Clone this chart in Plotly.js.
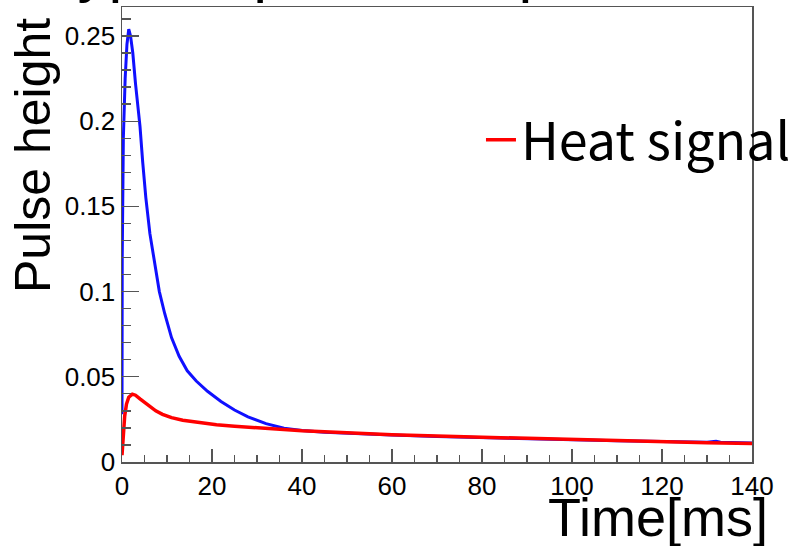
<!DOCTYPE html>
<html>
<head>
<meta charset="utf-8">
<script src="https://cdn.plot.ly/plotly-3.0.1.min.js"></script>
<style>html,body{margin:0;padding:0;background:#fff;}#chart{width:789px;height:546px;}</style>
</head>
<body>
<div id="chart"></div>
<script>
// Time axis [ms] and pulse heights
const blueTime = [0, 0, 0.05, 0.3, 0.7, 1.1, 1.5, 1.9, 2.4, 3, 3.5, 4, 4.6, 5.3, 6.2, 7.2, 8.3, 9.5, 11, 12.7, 14.5, 16.5, 19, 22, 25, 28, 32, 36, 40, 45, 50, 60, 70, 80, 90, 100, 110, 120, 130, 132, 133, 140];
const blueHeight = [0.028, 0.09, 0.12, 0.19, 0.225, 0.245, 0.254, 0.25, 0.24, 0.222, 0.21, 0.197, 0.176, 0.155, 0.134, 0.117, 0.100, 0.087, 0.073, 0.062, 0.0535, 0.0475, 0.0415, 0.0355, 0.0305, 0.0265, 0.0225, 0.0198, 0.0185, 0.0175, 0.0168, 0.0158, 0.015, 0.0143, 0.0136, 0.013, 0.0124, 0.012, 0.0116, 0.0122, 0.0116, 0.0112];

const heatTime = [0, 0.3, 0.6, 1.0, 1.5, 2.3, 3, 4, 5, 6.2, 7.5, 9, 11, 13.5, 17, 21, 25, 30, 35, 40, 45, 50, 60, 70, 80, 90, 100, 110, 120, 130, 140];
const heatHeight = [0.004, 0.018, 0.027, 0.034, 0.038, 0.0398, 0.0392, 0.037, 0.035, 0.0325, 0.030, 0.028, 0.026, 0.0245, 0.023, 0.0218, 0.021, 0.0200, 0.0192, 0.0183, 0.0177, 0.017, 0.016, 0.0152, 0.0145, 0.0138, 0.0132, 0.0125, 0.0118, 0.0113, 0.0109];

const heatName = "Heat signal";
const titleText = "Typical pulse shape";
const xTitle = "Time[ms]";
const yTitle = "Pulse height";

const axisColor = "#555555";
const sans = "Liberation Sans, Arial, sans-serif";

const traces = [
  {x: blueTime, y: blueHeight, type: "scatter", mode: "lines", showlegend: false,
   line: {color: "#1010ff", width: 3}},
  {x: heatTime, y: heatHeight, type: "scatter", mode: "lines", name: heatName,
   line: {color: "#ff0000", width: 3.5}}
];

const layout = {
  width: 789, height: 546,
  margin: {l: 122, r: 37, t: 7, b: 84, pad: 0, autoexpand: false},
  paper_bgcolor: "#ffffff", plot_bgcolor: "#ffffff",
  showlegend: true,
  legend: {x: 0.5698, xanchor: "left", y: 0.708, yanchor: "middle",
           bgcolor: "rgba(0,0,0,0)", borderwidth: 0,
           font: {family: "Noto Sans CJK JP, sans-serif", size: 52, color: "#000"}},
  xaxis: {range: [0, 140], dtick: 20, tick0: 0, showgrid: false, zeroline: false,
          showline: true, mirror: true, linecolor: axisColor, linewidth: 1.5,
          ticks: "inside", ticklen: 13, tickwidth: 1.3, tickcolor: axisColor,
          minor: {dtick: 5, ticks: "inside", ticklen: 7, tickwidth: 1.3, tickcolor: axisColor, showgrid: false},
          tickfont: {family: sans, size: 26, color: "#000"}, fixedrange: true},
  yaxis: {range: [0, 0.267], dtick: 0.05, tick0: 0, showgrid: false, zeroline: false,
          showline: true, mirror: true, linecolor: axisColor, linewidth: 1.5,
          ticks: "inside", ticklen: 17, tickwidth: 1.3, tickcolor: axisColor,
          minor: {dtick: 0.01, ticks: "inside", ticklen: 9, tickwidth: 1.3, tickcolor: axisColor, showgrid: false},
          tickfont: {family: sans, size: 26, color: "#000"}, fixedrange: true},
  annotations: [
    {text: titleText, xref: "paper", yref: "paper", x: -0.1286, y: 1.004, xanchor: "left", yanchor: "bottom",
     showarrow: false, font: {family: sans, size: 62, color: "#000"}},
    {text: yTitle, xref: "paper", yref: "paper", x: -0.1413, y: 0.6747, xanchor: "center", yanchor: "middle",
     textangle: -90, showarrow: false, font: {family: sans, size: 50, color: "#000"}},
    {text: xTitle, xref: "paper", yref: "paper", x: 1.0286, y: -0.1209, xanchor: "right", yanchor: "middle",
     showarrow: false, font: {family: sans, size: 54, color: "#000"}}
  ]
};

Plotly.newPlot("chart", traces, layout, {displayModeBar: false, staticPlot: true});
</script>
</body>
</html>
